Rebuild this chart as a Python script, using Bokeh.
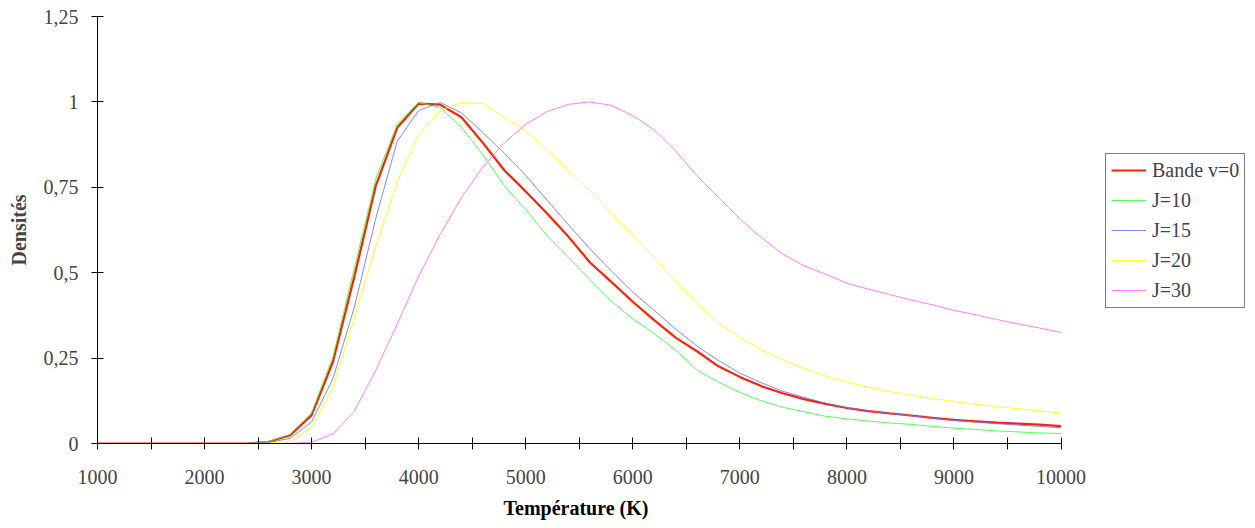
from bokeh.plotting import figure
from bokeh.models import Legend, LegendItem, FixedTicker, Range1d, Title
from bokeh.embed import file_html
from bokeh.resources import INLINE

# ---------------- data ----------------
temperature = [1000, 1200, 1400, 1600, 1800, 2000, 2200, 2400,
               2600, 2800, 3000, 3200, 3400, 3600, 3800, 4000,
               4200, 4400, 4600, 4800, 5000, 5200, 5400, 5600,
               5800, 6000, 6200, 6400, 6600, 6800, 7000, 7200,
               7400, 7600, 7800, 8000, 8200, 8400, 8600, 8800,
               9000, 9200, 9400, 9600, 9800, 10000]

bande_v0 = [0, 0, 0, 0, 0, 0, 0, 0,
            0.005, 0.024, 0.083, 0.24, 0.49, 0.755, 0.925, 0.995,
            0.992, 0.955, 0.88, 0.80, 0.738, 0.673, 0.605, 0.53,
            0.473, 0.415, 0.361, 0.31, 0.27, 0.226, 0.195, 0.168,
            0.147, 0.13, 0.116, 0.104, 0.095, 0.088, 0.082, 0.075,
            0.069, 0.065, 0.061, 0.058, 0.055, 0.051]

j10 = [0, 0, 0, 0, 0, 0, 0, 0,
       0.006, 0.027, 0.09, 0.255, 0.515, 0.775, 0.935, 0.998,
       0.984, 0.925, 0.845, 0.755, 0.685, 0.608, 0.545, 0.48,
       0.417, 0.365, 0.322, 0.273, 0.215, 0.18, 0.15, 0.125,
       0.106, 0.093, 0.08, 0.072, 0.066, 0.06, 0.056, 0.05,
       0.045, 0.041, 0.037, 0.034, 0.031, 0.029]

j15 = [0, 0, 0, 0, 0, 0, 0, 0,
       0.003, 0.015, 0.063, 0.19, 0.40, 0.66, 0.885, 0.975,
       0.998, 0.968, 0.91, 0.85, 0.785, 0.712, 0.64, 0.57,
       0.505, 0.443, 0.39, 0.335, 0.285, 0.243, 0.206, 0.178,
       0.153, 0.135, 0.118, 0.105, 0.096, 0.088, 0.081, 0.074,
       0.068, 0.063, 0.058, 0.054, 0.05, 0.046]

j20 = [0, 0, 0, 0, 0, 0, 0, 0,
       0.001, 0.006, 0.048, 0.165, 0.37, 0.58, 0.768, 0.905,
       0.975, 0.998, 0.995, 0.955, 0.915, 0.86, 0.80, 0.74,
       0.675, 0.61, 0.545, 0.475, 0.41, 0.352, 0.31, 0.275,
       0.245, 0.22, 0.198, 0.18, 0.165, 0.152, 0.142, 0.132,
       0.123, 0.115, 0.108, 0.102, 0.096, 0.089]

j30 = [0, 0, 0, 0, 0, 0, 0, 0,
       0, 0, 0.004, 0.028, 0.095, 0.215, 0.35, 0.49,
       0.612, 0.72, 0.81, 0.88, 0.935, 0.972, 0.993, 1.0,
       0.99, 0.96, 0.918, 0.857, 0.783, 0.72, 0.658, 0.603,
       0.555, 0.52, 0.496, 0.469, 0.452, 0.436, 0.42, 0.406,
       0.39, 0.377, 0.363, 0.35, 0.338, 0.325]

series_labels = ["Bande v=0", "J=10", "J=15", "J=20", "J=30"]

x_tick_values = [1000, 2000, 3000, 4000, 5000, 6000, 7000, 8000, 9000, 10000]
x_minor_ticks = [1500, 2500, 3500, 4500, 5500, 6500, 7500, 8500, 9500]
y_tick_values = [0, 0.25, 0.5, 0.75, 1, 1.25]
y_tick_labels = ["0", "0,25", "0,5", "0,75", "1", "1,25"]
x_title = "Température (K)"
y_title = "Densités"

# ---------------- figure ----------------
FONT = "Liberation Serif"

# the frame extends to the right to host the legend; the x axis is bounded to 1000-10000
p = figure(width=1250, height=527, output_backend="svg", toolbar_location=None,
           x_range=Range1d(1000, 11770), y_range=Range1d(0, 1.25),
           min_border_left=97, min_border_right=0, min_border_top=16,
           min_border_bottom=84)
p.outline_line_color = None
p.xgrid.visible = False
p.ygrid.visible = False
p.background_fill_color = "white"
p.border_fill_color = "white"

styles = [
    (bande_v0, "#ff2200", 2.2, 1.0),
    (j10, "#33ff33", 1.0, 0.85),
    (j15, "#6677ff", 1.0, 0.85),
    (j20, "#ffff00", 1.0, 0.9),
    (j30, "#ff66ff", 1.0, 0.85),
]
renderers = []
for ys, col, lw, la in styles:
    r = p.line(temperature, ys, line_color=col, line_width=lw, line_alpha=la)
    renderers.append(r)

# x axis
xa = p.xaxis[0]
xa.bounds = (1000, 10000)
xa.ticker = FixedTicker(ticks=x_tick_values, minor_ticks=x_minor_ticks)
xa.major_label_text_font = FONT
xa.major_label_text_font_size = "20px"
xa.major_label_standoff = 20
xa.major_tick_in = 6
xa.major_tick_out = 6
xa.minor_tick_in = 6
xa.minor_tick_out = 6
xa.axis_line_color = "black"
xa.major_tick_line_color = "black"
xa.minor_tick_line_color = "black"

# x title, centred under the bounded axis (not under the wider frame)
xt = Title(text=x_title, align="left", offset=406, standoff=17,
           text_font=FONT, text_font_style="bold", text_font_size="20px",
           text_color="black")
p.add_layout(xt, "below")

# y axis
ya = p.yaxis[0]
ya.ticker = FixedTicker(ticks=y_tick_values, minor_ticks=[])
ya.major_label_overrides = {v: s for v, s in zip(y_tick_values, y_tick_labels)}
ya.axis_label = y_title
ya.axis_label_text_font = FONT
ya.axis_label_text_font_style = "bold"
ya.axis_label_text_font_size = "20px"
ya.axis_label_standoff = 11
ya.major_label_text_font = FONT
ya.major_label_text_font_size = "20px"
ya.major_label_standoff = 13
ya.major_tick_in = 6
ya.major_tick_out = 6
ya.minor_tick_line_color = None
ya.axis_line_color = "black"
ya.major_tick_line_color = "black"

# legend (inside the extended frame, right of the axis end)
items = [LegendItem(label=lab, renderers=[r]) for lab, r in zip(series_labels, renderers)]
legend = Legend(items=items, location=(1008, 135.5), margin=0,
                label_text_font=FONT, label_text_font_size="20px",
                glyph_width=35, glyph_height=20, label_height=20,
                spacing=7, padding=5, label_standoff=6,
                border_line_color="black", border_line_width=1,
                background_fill_color="white", background_fill_alpha=1.0)
p.add_layout(legend)

open("out.html", "w").write(file_html(p, INLINE))
